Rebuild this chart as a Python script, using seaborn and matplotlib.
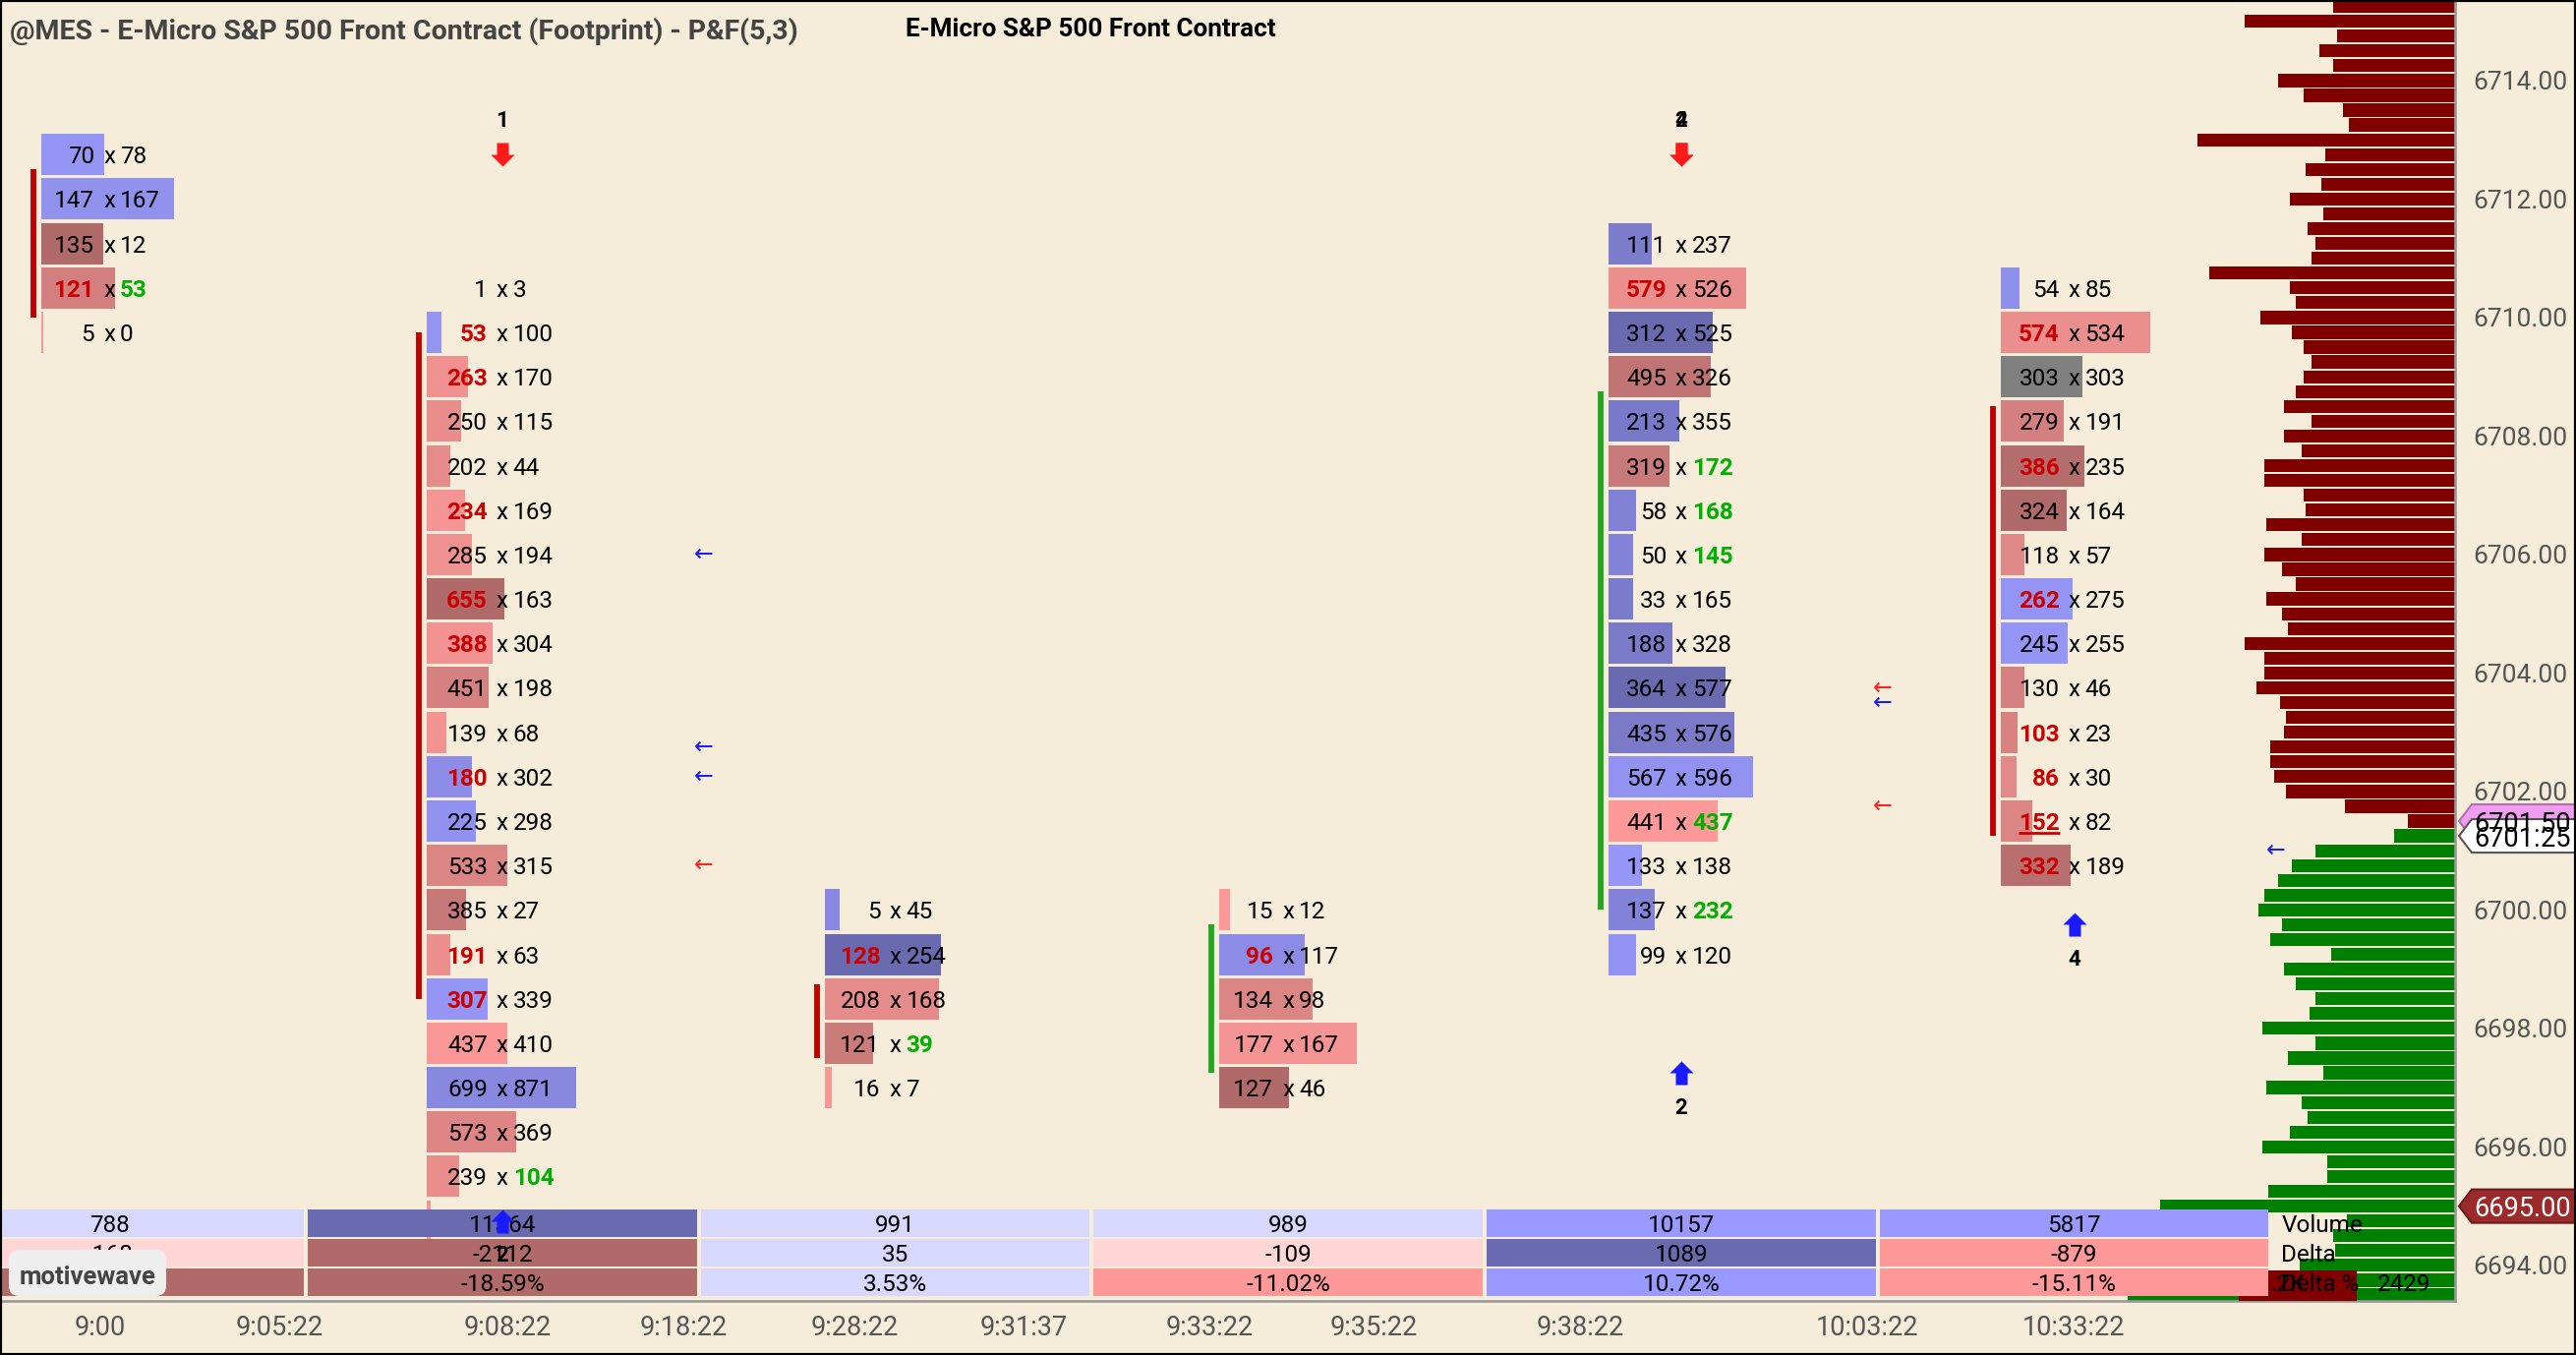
import numpy as np
import pandas as pd
import matplotlib
matplotlib.use("Agg")
import matplotlib.pyplot as plt
import matplotlib.colors as mcolors
import matplotlib.transforms as mtransforms
from matplotlib.patches import Rectangle, Polygon, FancyBboxPatch
from matplotlib.path import Path
import seaborn as sns

# ---- footprint boxes (P&F columns), top row first: bid x ask ----
c1_price = [6712.75, 6712.0, 6711.25, 6710.5, 6709.75]
c1_bid = [70, 147, 135, 121, 5]
c1_ask = [78, 167, 12, 53, 0]
c1_flag = ["", "", "", "ba", ""]

c2_price = [6710.5, 6709.75, 6709.0, 6708.25, 6707.5, 6706.75, 6706.0, 6705.25,
            6704.5, 6703.75, 6703.0, 6702.25, 6701.5, 6700.75, 6700.0, 6699.25,
            6698.5, 6697.75, 6697.0, 6696.25, 6695.5, 6694.75]
c2_bid = [1, 53, 263, 250, 202, 234, 285, 655, 388, 451, 139, 180, 225, 533, 385,
          191, 307, 437, 699, 573, 239, 48]
c2_ask = [3, 100, 170, 115, 44, 169, 194, 163, 304, 198, 68, 302, 298, 315, 27,
          63, 339, 410, 871, 369, 104, 0]
c2_flag = ["", "b", "b", "", "", "b", "", "b", "b", "", "", "b", "", "", "", "b",
           "b", "", "", "", "a", ""]

c3_price = [6700.0, 6699.25, 6698.5, 6697.75, 6697.0]
c3_bid = [5, 128, 208, 121, 16]
c3_ask = [45, 254, 168, 39, 7]
c3_flag = ["", "b", "", "a", ""]

c4_price = [6700.0, 6699.25, 6698.5, 6697.75, 6697.0]
c4_bid = [15, 96, 134, 177, 127]
c4_ask = [12, 117, 98, 167, 46]
c4_flag = ["", "b", "", "", ""]

c5_price = [6711.25, 6710.5, 6709.75, 6709.0, 6708.25, 6707.5, 6706.75, 6706.0,
            6705.25, 6704.5, 6703.75, 6703.0, 6702.25, 6701.5, 6700.75, 6700.0, 6699.25]
c5_bid = [111, 579, 312, 495, 213, 319, 58, 50, 33, 188, 364, 435, 567, 441, 133, 137, 99]
c5_ask = [237, 526, 525, 326, 355, 172, 168, 145, 165, 328, 577, 576, 596, 437, 138, 232, 120]
c5_flag = ["", "b", "", "", "", "a", "a", "a", "", "", "", "", "", "a", "", "a", ""]

c6_price = [6710.5, 6709.75, 6709.0, 6708.25, 6707.5, 6706.75, 6706.0, 6705.25,
            6704.5, 6703.75, 6703.0, 6702.25, 6701.5, 6700.75]
c6_bid = [54, 574, 303, 279, 386, 324, 118, 262, 245, 130, 103, 86, 152, 332]
c6_ask = [85, 534, 303, 191, 235, 164, 57, 275, 255, 46, 23, 30, 82, 189]
c6_flag = ["", "b", "", "", "b", "", "", "b", "", "", "b", "b", "bu", "b"]

columns = [
    (c1_price, c1_bid, c1_ask, c1_flag),
    (c2_price, c2_bid, c2_ask, c2_flag),
    (c3_price, c3_bid, c3_ask, c3_flag),
    (c4_price, c4_bid, c4_ask, c4_flag),
    (c5_price, c5_bid, c5_ask, c5_flag),
    (c6_price, c6_bid, c6_ask, c6_flag),
]

# stacked imbalance bars
stack_col = [0, 1, 2, 3, 4, 5]
stack_top = [6712.5, 6709.75, 6698.75, 6699.75, 6708.75, 6708.5]
stack_bottom = [6710.0, 6698.5, 6697.5, 6697.25, 6700.0, 6701.25]
stack_side = ["sell", "sell", "sell", "buy", "buy", "sell"]

# signal arrows
signal_col = [1, 4, 4, 4, 5, 1]
signal_price = [6712.75, 6712.75, 6712.75, 6697.25, 6699.75, 6694.75]
signal_dir = ["down", "down", "down", "up", "up", "up"]
signal_label = ["1", "2", "4", "2", "4", "2"]

# small flags between columns
flag_col = [1, 1, 1, 1, 4, 4, 4, 5]
flag_price = [6706.0, 6702.75, 6702.25, 6700.75, 6703.75, 6703.5, 6701.75, 6701.0]
flag_side = ["buy", "buy", "buy", "sell", "sell", "buy", "sell", "buy"]

# volume profile on the right edge
profile_price = [
    6715.25, 6715.0, 6714.75, 6714.5, 6714.25, 6714.0, 6713.75, 6713.5, 6713.25, 6713.0,
    6712.75, 6712.5, 6712.25, 6712.0, 6711.75, 6711.5, 6711.25, 6711.0, 6710.75, 6710.5,
    6710.25, 6710.0, 6709.75, 6709.5, 6709.25, 6709.0, 6708.75, 6708.5, 6708.25, 6708.0,
    6707.75, 6707.5, 6707.25, 6707.0, 6706.75, 6706.5, 6706.25, 6706.0, 6705.75, 6705.5,
    6705.25, 6705.0, 6704.75, 6704.5, 6704.25, 6704.0, 6703.75, 6703.5, 6703.25, 6703.0,
    6702.75, 6702.5, 6702.25, 6702.0, 6701.75, 6701.5, 6701.25, 6701.0, 6700.75, 6700.5,
    6700.25, 6700.0, 6699.75, 6699.5, 6699.25, 6699.0, 6698.75, 6698.5, 6698.25, 6698.0,
    6697.75, 6697.5, 6697.25, 6697.0, 6696.75, 6696.5, 6696.25, 6696.0, 6695.75, 6695.5,
    6695.25, 6695.0, 6694.75, 6694.5, 6694.25, 6694.0, 6693.75, 6693.5]
profile_volume = [
    372, 642, 360, 414, 372, 540, 462, 342, 324, 786,
    396, 456, 408, 504, 402, 450, 426, 438, 750, 504,
    486, 594, 498, 462, 438, 462, 486, 522, 438, 522,
    468, 582, 582, 462, 456, 576, 468, 582, 528, 486,
    576, 528, 510, 642, 582, 582, 606, 534, 516, 522,
    564, 564, 552, 516, 336, 144, 186, 426, 498, 540,
    582, 600, 528, 564, 378, 522, 486, 426, 444, 588,
    426, 510, 402, 576, 468, 450, 504, 588, 390, 390,
    570, 900, 330, 372, 366, 474, 1000, 1000]
profile_split = 6701.375
profile_tail = [".2K", "2429"]

# time axis
time_labels = ["9:00", "9:05:22", "9:08:22", "9:18:22", "9:28:22", "9:31:37",
               "9:33:22", "9:35:22", "9:38:22", "10:03:22", "10:33:22"]
time_pos = [-0.023, 0.433, 1.014, 1.461, 1.896, 2.327, 2.799, 3.217, 3.744, 4.472, 4.998]

price_ticks = [6694, 6696, 6698, 6700, 6702, 6704, 6706, 6708, 6710, 6712, 6714]
tag_price = [6701.5, 6701.25, 6695.0]
tag_style = ["pink", "last", "low"]

# ---- layout / style ----
BG = "#F5ECDA"
FIG_W, FIG_H = 2620, 1378
AX_W_PX, AX_H_PX = 2497, 1323
PX_PER_COL = 399.7
X_MIN = -0.278
X_MAX = X_MIN + AX_W_PX / PX_PER_COL
Y_MIN, Y_MAX = 6693.40, 6715.36
PX_PER_PT = AX_H_PX / (Y_MAX - Y_MIN)

COL_MAXW_PX = [135, 152, 118, 140, 147, 152]
BAR_LEFT_PX = [-69, -77, -72, -70, -74, -75]
BID_DX = -15 / PX_PER_COL
ASK_DX = 11 / PX_PER_COL
FS = 17.5
SELL_TXT = "#CC0000"
BUY_TXT = "#00B000"

sns.set_theme(style="white")
plt.rcParams["font.family"] = ["Roboto", "DejaVu Sans"]


def mix(c1, c2, t):
    a = np.array(mcolors.to_rgb(c1))
    b = np.array(mcolors.to_rgb(c2))
    return tuple(a + (b - a) * t)


def box_color(delta, dmax):
    if delta == 0:
        return "#808080"
    t = min(abs(delta) / dmax, 1.0)
    if delta > 0:
        return mix("#9898FA", "#6A6AB0", t)
    return mix("#FF9A9A", "#B06A6A", t)


BLUE_LVL = ["#D8D8FF", "#9999FF", "#6A6AB0"]
RED_LVL = ["#FFD6D6", "#FF9999", "#B06A6A"]


def cell_color(value, limits):
    level = int(np.searchsorted(limits, abs(value), side="right"))
    return (BLUE_LVL if value >= 0 else RED_LVL)[level]


fig = plt.figure(figsize=(FIG_W / 100, FIG_H / 100), dpi=100, facecolor=BG)
ax = fig.add_axes([0, 1 - AX_H_PX / FIG_H, AX_W_PX / FIG_W, AX_H_PX / FIG_H])
ax.set_facecolor(BG)

# footprint boxes
col_vol, col_delta = [], []
for i, (price, bid, ask, flag) in enumerate(columns):
    bid = np.array(bid)
    ask = np.array(ask)
    vol = bid + ask
    delta = ask - bid
    col_vol.append(int(vol.sum()))
    col_delta.append(int(delta.sum()))
    dmax = np.abs(delta).max()
    keys = [f"{i}-{k}" for k in range(len(price))]
    pal = {k: box_color(d, dmax) for k, d in zip(keys, delta)}
    df = pd.DataFrame({"price": price,
                       "width": vol / vol.max() * COL_MAXW_PX[i] / PX_PER_COL,
                       "box": keys})
    sns.barplot(data=df, x="width", y="price", hue="box", palette=pal, orient="y",
                native_scale=True, width=0.93, saturation=1, errorbar=None,
                legend=False, ax=ax, left=i + BAR_LEFT_PX[i] / PX_PER_COL,
                linewidth=0, zorder=1)
    for k in range(len(price)):
        y = price[k]
        hb = "b" in flag[k]
        ha_ = "a" in flag[k]
        ax.text(i + BID_DX, y, str(bid[k]), ha="right", va="center_baseline",
                fontsize=FS, color=SELL_TXT if hb else "black",
                fontweight="bold" if hb else "normal", zorder=3)
        ax.text(i, y, "x", ha="center", va="center_baseline", fontsize=FS,
                color="black", zorder=3)
        ax.text(i + ASK_DX, y, str(ask[k]), ha="left", va="center_baseline",
                fontsize=FS, color=BUY_TXT if ha_ else "black",
                fontweight="bold" if ha_ else "normal", zorder=3)
        if "u" in flag[k]:
            ax.plot([i + BID_DX - 0.105, i + BID_DX], [y - 0.2, y - 0.2],
                    color=SELL_TXT, lw=2, solid_capstyle="butt", zorder=3)

# stacked imbalance lines
for c, top, bot, side in zip(stack_col, stack_top, stack_bottom, stack_side):
    ax.vlines(c + (BAR_LEFT_PX[c] - 8) / PX_PER_COL, bot, top,
              color="#C00000" if side == "sell" else "#20A820", lw=4.2, zorder=2)

# volume profile
prof = pd.DataFrame({"price": profile_price, "volume": profile_volume})
prof["side"] = np.where(prof["price"] > profile_split, "above", "below")
prof["width"] = -prof["volume"] / 3 / PX_PER_COL
sns.barplot(data=prof, x="width", y="price", hue="side",
            palette={"above": "#800000", "below": "#008000"}, orient="y",
            native_scale=True, width=0.88, saturation=1, errorbar=None,
            legend=False, ax=ax, left=X_MAX, linewidth=0, zorder=1)

# flags
for c, p, side in zip(flag_col, flag_price, flag_side):
    ax.text(c + 0.512, p, "\u2190", ha="center", va="center", fontsize=17,
            family=["DejaVu Sans"], color="#1A1AFF" if side == "buy" else "#FF2020",
            zorder=3)

# signal arrows
UP = Path([(-0.5, 0.0), (0.0, 0.5), (0.5, 0.0), (0.25, 0.0), (0.25, -0.5),
           (-0.25, -0.5), (-0.25, 0.0), (-0.5, 0.0)])
DOWN = Path([(x, -y) for x, y in UP.vertices])
for c, p, d, lab in zip(signal_col, signal_price, signal_dir, signal_label):
    ax.scatter([c], [p], marker=UP if d == "up" else DOWN, s=300, linewidths=0,
               color="#1A1AFF" if d == "up" else "#FF1A1A", zorder=7)
    ly = p + 0.61 if d == "down" else p - 0.55
    ax.text(c, ly, lab, ha="center", va="center_baseline", fontsize=16,
            fontweight="bold", color="black", zorder=7)

# bottom table
trans = mtransforms.blended_transform_factory(ax.transData, ax.transAxes)
ROW_H = 28 / AX_H_PX
row_bot = [65 / AX_H_PX, 35 / AX_H_PX, 5 / AX_H_PX]
row_names = ["Volume", "Delta", "Delta %"]
col_pct = [d / v * 100 for d, v in zip(col_delta, col_vol)]
rows = [
    (col_vol, [str(v) for v in col_vol], [1000, 11000]),
    (col_delta, [str(d) for d in col_delta], [200, 1000]),
    (col_pct, [f"{p:.2f}%" for p in col_pct], [5, 17]),
]
gap = 2 / PX_PER_COL
for r, (vals, texts, limits) in enumerate(rows):
    for i in range(len(columns)):
        ax.add_patch(Rectangle((i - 0.5 + gap, row_bot[r]), 1 - 2 * gap, ROW_H,
                               transform=trans, facecolor=cell_color(vals[i], limits),
                               linewidth=0, zorder=4))
        ax.text(i, row_bot[r] + ROW_H / 2, texts[i], transform=trans, ha="center",
                va="center_baseline", fontsize=FS, color="black", zorder=5)

ax.add_patch(Rectangle((5.419, 0), 0.30, 31 / AX_H_PX, transform=trans,
                       facecolor="#800000", linewidth=0, zorder=3.9))
ax.text(5.5, row_bot[2] + ROW_H / 2, profile_tail[0], transform=trans, ha="left",
        va="center_baseline", fontsize=FS, color="black", zorder=6)
ax.text(5.772, row_bot[2] + ROW_H / 2, profile_tail[1], transform=trans, ha="left",
        va="center_baseline", fontsize=FS, color="black", zorder=6)
for r, name in enumerate(row_names):
    ax.text(5.527, row_bot[r] + ROW_H / 2, name, transform=trans, ha="left",
            va="center_baseline", fontsize=FS, color="black", zorder=6)

# axes
ax.set_xlim(X_MIN, X_MAX)
ax.set_ylim(Y_MIN, Y_MAX)
ax.set_xlabel("")
ax.set_ylabel("")
ax.yaxis.tick_right()
ax.set_yticks(price_ticks)
ax.set_yticklabels([f"{v:.2f}" for v in price_ticks])
ax.set_xticks(time_pos)
ax.set_xticklabels(time_labels)
ax.tick_params(axis="y", length=0, pad=13, labelsize=19, labelcolor="#555555")
ax.tick_params(axis="x", length=0, pad=10, labelsize=19.5, labelcolor="#555555")
for s in ["left", "top"]:
    ax.spines[s].set_visible(False)
for s in ["right", "bottom"]:
    ax.spines[s].set_color("#999999")
    ax.spines[s].set_linewidth(1.9)

# price tags
tag_tr = mtransforms.blended_transform_factory(ax.transAxes, ax.transData)
tag_look = {"pink": ("#F09CF0", "#B070B0", "black"),
            "last": ("white", "#555555", "black"),
            "low": ("#9C2A2A", "#6A1A1A", "white")}
half = 17 / PX_PER_PT


def fx(px):
    return 1 + px / AX_W_PX


for p, st in zip(tag_price, tag_style):
    fc, ec, tc = tag_look[st]
    verts = [(fx(4), p), (fx(17), p + half), (fx(124), p + half),
             (fx(124), p - half), (fx(17), p - half)]
    ax.add_patch(Polygon(verts, closed=True, transform=tag_tr, facecolor=fc,
                         edgecolor=ec, linewidth=1.5, clip_on=False, zorder=8))
    ax.text(fx(19), p, f"{p:.2f}", transform=tag_tr, ha="left", va="center_baseline",
            fontsize=19.5, color=tc, clip_on=False, zorder=9)

# titles, logo, frame
fig.text(10 / FIG_W, 1 - 32 / FIG_H,
         "@MES - E-Micro S&P 500 Front Contract (Footprint) - P&F(5,3)",
         ha="left", va="center", fontsize=20.5, fontweight="bold", color="#444444")
fig.text(1109 / FIG_W, 1 - 30 / FIG_H, "E-Micro S&P 500 Front Contract",
         ha="center", va="center", fontsize=18.8, fontweight="bold", color="black")
fig.add_artist(FancyBboxPatch((9 / FIG_W, 1 - 1318 / FIG_H), 160 / FIG_W, 47 / FIG_H,
                              boxstyle="round,pad=0,rounding_size=0.004",
                              transform=fig.transFigure, facecolor="#EEEEEE",
                              edgecolor="none", zorder=10, mutation_aspect=FIG_W / FIG_H))
fig.text(89 / FIG_W, 1 - 1297 / FIG_H, "motivewave", ha="center", va="center_baseline",
         fontsize=18.5, fontweight="bold", color="#444444", zorder=11)
fig.add_artist(Rectangle((0, 0), 1, 1, transform=fig.transFigure, fill=False,
                         edgecolor="black", linewidth=3))

fig.savefig("out.png", dpi=100, facecolor=BG)
